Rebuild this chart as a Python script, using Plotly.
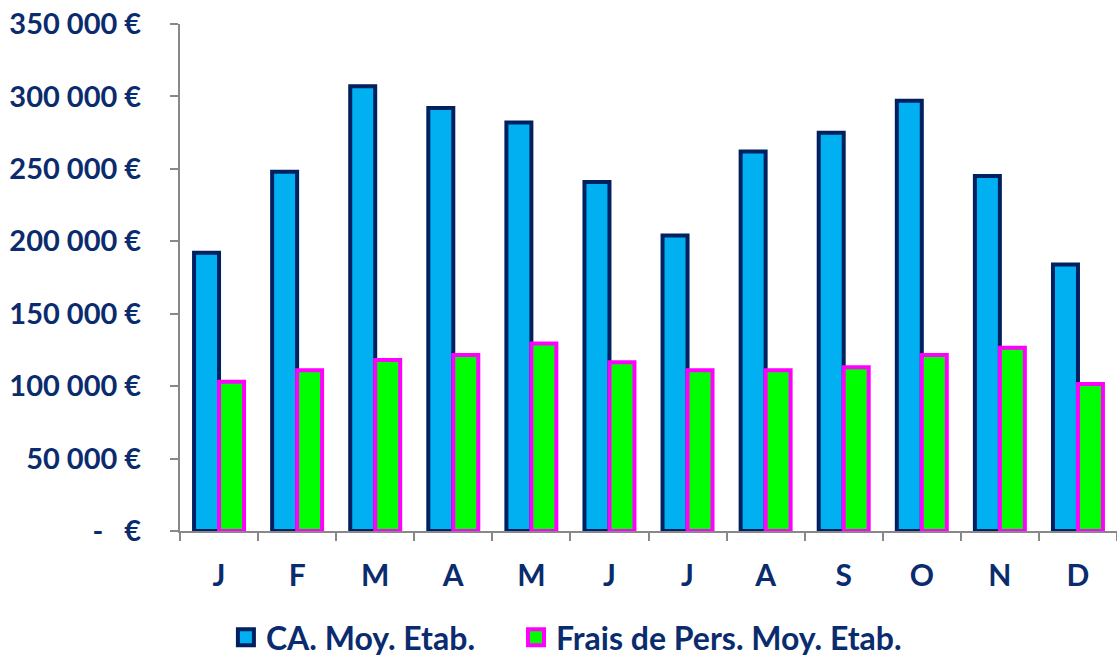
import plotly.graph_objects as go

months = ["J", "F", "M", "A", "M", "J", "J", "A", "S", "O", "N", "D"]
ca_values = [192000, 248000, 307000, 292000, 282000, 241000, 204000, 262000, 275000, 297000, 245000, 184000]
frais_values = [103000, 111000, 118000, 121500, 129500, 116500, 111000, 111000, 113000, 121500, 126500, 101500]
series_names = ["CA. Moy. Etab.", "Frais de Pers. Moy. Etab."]
y_tickvals = [0, 50000, 100000, 150000, 200000, 250000, 300000, 350000]
y_ticktext = ["-   €", "50 000 €", "100 000 €", "150 000 €", "200 000 €", "250 000 €", "300 000 €", "350 000 €"]

x_idx = list(range(len(months)))
boundaries = [i - 0.5 for i in range(len(months) + 1)]
navy = "#0A2C6E"
font_family = "Lato, 'Open Sans', sans-serif"

fills = ["#00B0F0", "#00FF00"]
lines = ["#002060", "#FF00FF"]
legend_ids = ["legend", "legend2"]

fig = go.Figure()
for vals, name, fc, lc in zip([ca_values, frais_values], series_names, fills, lines):
    fig.add_trace(go.Bar(
        x=x_idx, y=vals, name=name, showlegend=False,
        marker=dict(color=fc, line=dict(color=lc, width=4)),
    ))
# legend entries (square markers)
for name, fc, lc, lid in zip(series_names, fills, lines, legend_ids):
    fig.add_trace(go.Scatter(
        x=[None], y=[None], mode="markers", name=name, legend=lid,
        marker=dict(symbol="square", size=16, color=fc, line=dict(color=lc, width=4)),
    ))

legend_style = dict(
    orientation="h", xanchor="left", yanchor="middle", y=-0.21,
    font=dict(family=font_family, size=32, color=navy, weight="bold"),
    itemsizing="trace", bgcolor="rgba(0,0,0,0)",
)

fig.update_layout(
    width=1117, height=661,
    margin=dict(l=180, r=0, t=24, b=130, autoexpand=False),
    barmode="group", bargap=0.36, bargroupgap=0,
    plot_bgcolor="white", paper_bgcolor="white",
    font=dict(family=font_family, size=24, color=navy),
    showlegend=True,
    legend=dict(x=0.049, **legend_style),
    legend2=dict(x=0.3586, **legend_style),
    xaxis=dict(
        tickmode="array", tickvals=x_idx, ticktext=["<b>%s</b>" % m for m in months],
        range=[-0.5, 11.5], automargin=False,
        showline=True, linecolor="#888888", linewidth=2,
        ticks="", ticklabelstandoff=17,
        minor=dict(tickmode="array", tickvals=boundaries, ticks="outside",
                   ticklen=8, tickwidth=2, tickcolor="#888888", showgrid=False),
        showgrid=False, zeroline=False,
        tickfont=dict(family=font_family, size=30, color=navy),
    ),
    yaxis=dict(
        range=[0, 350000], tickmode="array", tickvals=y_tickvals,
        ticktext=["<b>%s</b>" % t for t in y_ticktext], automargin=False,
        showline=True, linecolor="#888888", linewidth=2,
        ticks="outside", ticklen=8, tickwidth=2, tickcolor="#888888",
        ticklabelstandoff=23, ticklabeloverflow="allow",
        showgrid=False, zeroline=False,
        tickfont=dict(family=font_family, size=29, color=navy),
    ),
)

fig.write_html(
    "out.html",
    config={"displayModeBar": False},
    post_script=(
        "document.documentElement.style.overflow='hidden';"
        "document.body.style.margin='0';document.body.style.overflow='hidden';"
    ),
)
